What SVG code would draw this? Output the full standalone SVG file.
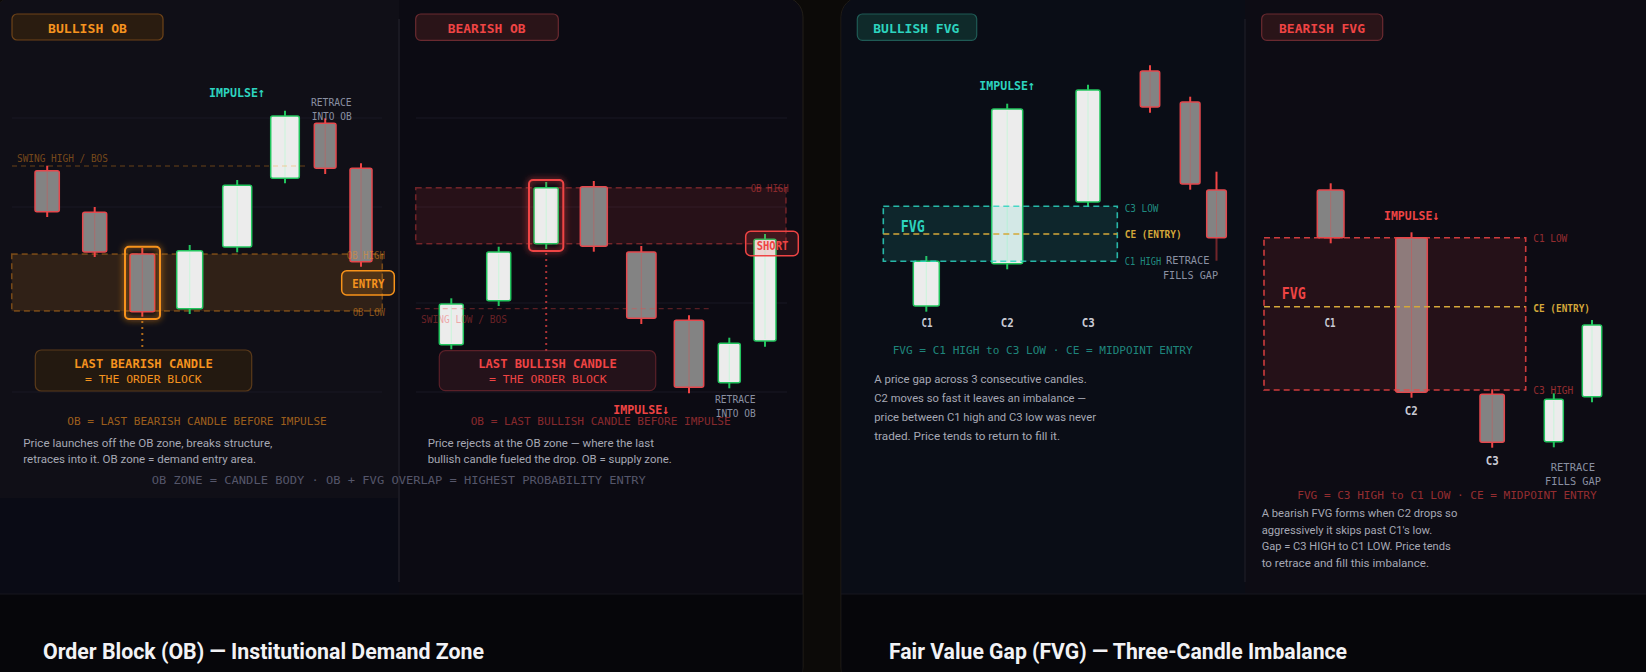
<svg xmlns="http://www.w3.org/2000/svg" width="1646" height="672" viewBox="0 0 1646 672">
<defs>
<style>
.mono{font-family:"DejaVu Sans Mono","Liberation Mono",monospace}
.sans{font-family:Roboto,"Liberation Sans",sans-serif}
.b{font-weight:700}
.bw{stroke:#ef4444;stroke-width:2}
.bb{fill:#838383;stroke:#e5484d;stroke-width:1.5}
.bc{stroke:#ef4444;stroke-width:1;opacity:.35}
.gw{stroke:#22c55e;stroke-width:2}
.gb{fill:#ececec;stroke:#22c55e;stroke-width:1.5}
.gc{stroke:#c8f7da;stroke-width:1.2;opacity:.8}
.grid{stroke:#191824;stroke-width:1}
.desc{fill:#a6a8b4;font-size:11.5px}
.gray{fill:#8a90a2;font-size:10.5px}
.or{fill:#f5931f}
.rd{fill:#ef4444}
.tl{fill:#2dd4bf}
.gd{fill:#d4a83a}
.cl{fill:#c9cad4;font-size:13px}
</style>
<filter id="glow" x="-50%" y="-50%" width="200%" height="200%">
<feGaussianBlur in="SourceGraphic" stdDeviation="3" result="bl"/>
<feMerge><feMergeNode in="bl"/><feMergeNode in="SourceGraphic"/></feMerge>
</filter>
</defs>

<!-- page background -->
<rect x="0" y="0" width="1646" height="672" fill="#0c0a08"/>

<!-- LEFT CARD -->
<g id="card-ob">
<rect x="-6" y="-3" width="809" height="690" rx="20" fill="#0c0b13" stroke="#221e18" stroke-width="1"/>
<path d="M-6,17 A20,20 0 0 1 14,-3 L399,-3 L399,498 L-6,498 Z" fill="#100f17"/>
<rect x="-6" y="498" width="405" height="96" fill="#0a0b15"/>
<rect x="-5.5" y="594" width="808" height="90" fill="#06060a"/>
<line x1="-6" y1="594" x2="803" y2="594" stroke="#17161e" stroke-width="1"/>
<line x1="399" y1="19" x2="399" y2="582" stroke="#1a1922" stroke-width="2"/>
</g>

<!-- RIGHT CARD -->
<g id="card-fvg">
<rect x="841" y="-3" width="820" height="690" rx="20" fill="#0d0c14" stroke="#221e18" stroke-width="1"/>
<path d="M841.5,17 A20,20 0 0 1 861,-3 L1245,-3 L1245,594 L841.5,594 Z" fill="#0a0d16"/>
<rect x="841.5" y="594" width="810" height="90" fill="#06060a"/>
<line x1="841" y1="594" x2="1646" y2="594" stroke="#17161e" stroke-width="1"/>
<line x1="1245" y1="19" x2="1245" y2="582" stroke="#16161f" stroke-width="2"/>
</g>

<!-- grid lines -->
<g id="grid">
<line x1="12" y1="118" x2="382" y2="118" class="grid"/>
<line x1="12" y1="207" x2="382" y2="207" class="grid"/>
<line x1="12" y1="392" x2="382" y2="392" class="grid"/>
<line x1="416" y1="118" x2="787" y2="118" class="grid"/>
<line x1="416" y1="207" x2="787" y2="207" class="grid"/>
<line x1="416" y1="303" x2="787" y2="303" class="grid"/>
<line x1="416" y1="392" x2="787" y2="392" class="grid"/>
</g>

<!-- ===== BULLISH OB ===== -->
<g id="bull-ob-label">
<rect x="12" y="14" width="151" height="26" rx="5" fill="#2a1c10" stroke="#6e4318" stroke-width="1.2"/>
<text x="48" y="33" class="mono b or" font-size="13" textLength="79" lengthAdjust="spacingAndGlyphs">BULLISH OB</text>
</g>
<g id="bull-ob-zone">
<rect x="11.7" y="254" width="370.6" height="57" fill="#f7931a" fill-opacity=".14" stroke="#f7931a" stroke-opacity=".42" stroke-width="1.5" stroke-dasharray="6 4"/>
</g>

<g id="bo-c1"><line x1="47.2" y1="165.7" x2="47.2" y2="217" class="bw"/><rect x="35" y="170.7" width="24.3" height="41" rx="2" class="bb"/><line x1="47.2" y1="172" x2="47.2" y2="210" class="bc"/></g>
<g id="bo-c2"><line x1="94.7" y1="207" x2="94.7" y2="257" class="bw"/><rect x="82.7" y="212.3" width="24" height="39.7" rx="2" class="bb"/><line x1="94.7" y1="214" x2="94.7" y2="250" class="bc"/></g>
<g id="bo-c3"><line x1="142.3" y1="248" x2="142.3" y2="316.7" class="bw"/><rect x="130" y="254" width="24.7" height="57.7" rx="2" class="bb"/><line x1="142.3" y1="256" x2="142.3" y2="310" class="bc"/>
<rect x="125" y="246.7" width="35" height="72.3" rx="4" fill="none" stroke="#f7931a" stroke-width="2" filter="url(#glow)"/></g>
<g id="bo-c4"><line x1="189.7" y1="245" x2="189.7" y2="314" class="gw"/><rect x="176.7" y="250.7" width="26" height="58" rx="2" class="gb"/><line x1="189.7" y1="252" x2="189.7" y2="307" class="gc"/></g>
<g id="bo-c5"><line x1="237.2" y1="180" x2="237.2" y2="252.3" class="gw"/><rect x="222.7" y="185.3" width="29" height="61.7" rx="2" class="gb"/><line x1="237.2" y1="187" x2="237.2" y2="245" class="gc"/></g>
<g id="bo-c6"><line x1="285" y1="110.7" x2="285" y2="183.3" class="gw"/><rect x="270.7" y="116" width="28.6" height="62.3" rx="2" class="gb"/><line x1="285" y1="118" x2="285" y2="177" class="gc"/></g>
<g id="bo-c7"><line x1="325.2" y1="118.3" x2="325.2" y2="174" class="bw"/><rect x="314.3" y="123.3" width="21.7" height="45" rx="2" class="bb"/><line x1="325.2" y1="125" x2="325.2" y2="167" class="bc"/></g>
<g id="bo-c8"><line x1="361" y1="163.3" x2="361" y2="266.7" class="bw"/><rect x="350" y="168.3" width="22" height="93.4" rx="2" class="bb"/><line x1="361" y1="170" x2="361" y2="260" class="bc"/></g>

<g id="bull-ob-swing">
<line x1="12" y1="166" x2="307" y2="166" stroke="#f7931a" stroke-opacity=".38" stroke-width="1.2" stroke-dasharray="5 4"/>
<text x="17" y="162" class="mono or" font-size="10.5" fill-opacity=".45" textLength="91" lengthAdjust="spacingAndGlyphs">SWING HIGH / BOS</text>
</g>
<g id="bull-ob-texts">
<text x="209" y="97" class="mono b tl" font-size="13" textLength="56" lengthAdjust="spacingAndGlyphs">IMPULSE↑</text>
<text x="311" y="106" class="mono gray" textLength="40.7" lengthAdjust="spacingAndGlyphs">RETRACE</text>
<text x="311.7" y="120" class="mono gray" textLength="40" lengthAdjust="spacingAndGlyphs">INTO OB</text>
<text x="346.7" y="258.7" class="mono or" font-size="10.5" fill-opacity=".5" textLength="38.3" lengthAdjust="spacingAndGlyphs">OB HIGH</text>
<text x="352.7" y="316" class="mono or" font-size="10.5" fill-opacity=".5" textLength="32.3" lengthAdjust="spacingAndGlyphs">OB LOW</text>
</g>
<g id="bull-ob-entry">
<rect x="341.7" y="270.7" width="52.6" height="24.3" rx="5" fill="#f7931a" fill-opacity=".16" stroke="#f7931a" stroke-width="1.5"/>
<text x="352.3" y="288" class="mono b or" font-size="12" textLength="32" lengthAdjust="spacingAndGlyphs">ENTRY</text>
</g>
<g id="bull-ob-callout">
<rect x="35.3" y="350" width="216.4" height="41" rx="6" fill="#231910" stroke="#5a3a1a" stroke-width="1.2"/>
<text x="74" y="368.3" class="mono b or" font-size="12.5" textLength="138.7" lengthAdjust="spacingAndGlyphs">LAST BEARISH CANDLE</text>
<text x="85" y="383.3" class="mono or" font-size="11" textLength="116.7" lengthAdjust="spacingAndGlyphs">= THE ORDER BLOCK</text>
</g>
<g id="bull-ob-notes">
<text x="67.3" y="425" class="mono or" font-size="10.5" fill-opacity=".62" textLength="259.4" lengthAdjust="spacingAndGlyphs">OB = LAST BEARISH CANDLE BEFORE IMPULSE</text>
<text x="23.3" y="447" class="sans desc" textLength="249" lengthAdjust="spacingAndGlyphs">Price launches off the OB zone, breaks structure,</text>
<text x="23.3" y="463" class="sans desc" textLength="232.7" lengthAdjust="spacingAndGlyphs">retraces into it. OB zone = demand entry area.</text>
<text x="151.7" y="484.3" class="mono" font-size="10.5" fill="#55566a" textLength="494" lengthAdjust="spacingAndGlyphs">OB ZONE = CANDLE BODY · OB + FVG OVERLAP = HIGHEST PROBABILITY ENTRY</text>
</g>

<!-- ===== BEARISH OB ===== -->
<g id="bear-ob-label">
<rect x="415.7" y="14" width="142.6" height="26.3" rx="5" fill="#2a1418" stroke="#6a2a30" stroke-width="1.2"/>
<text x="447.7" y="33" class="mono b rd" font-size="13" textLength="78" lengthAdjust="spacingAndGlyphs">BEARISH OB</text>
</g>
<g id="bear-ob-zone">
<rect x="415.7" y="187.7" width="370.3" height="56" fill="#ef4444" fill-opacity=".12" stroke="#ef4444" stroke-opacity=".42" stroke-width="1.5" stroke-dasharray="6 4"/>
<text x="750.7" y="192" class="mono rd" font-size="10.5" fill-opacity=".5" textLength="38" lengthAdjust="spacingAndGlyphs">OB HIGH</text>
</g>

<g id="be-c1"><line x1="451.3" y1="298.3" x2="451.3" y2="349.3" class="gw"/><rect x="439.3" y="304" width="24" height="40.7" rx="2" class="gb"/><line x1="451.3" y1="306" x2="451.3" y2="343" class="gc"/></g>
<g id="be-c2"><line x1="498.7" y1="246.7" x2="498.7" y2="306" class="gw"/><rect x="486.7" y="252" width="24" height="48.7" rx="2" class="gb"/><line x1="498.7" y1="254" x2="498.7" y2="299" class="gc"/></g>
<g id="be-c3"><line x1="546.2" y1="182" x2="546.2" y2="249" class="gw"/><rect x="534" y="187.7" width="24.3" height="56" rx="2" class="gb"/><line x1="546.2" y1="190" x2="546.2" y2="242" class="gc"/>
<rect x="529" y="180" width="34.3" height="71" rx="4" fill="none" stroke="#ef4444" stroke-width="2" filter="url(#glow)"/></g>
<g id="be-c4"><line x1="593.8" y1="181" x2="593.8" y2="251.7" class="bw"/><rect x="580.3" y="186.7" width="27" height="59.6" rx="2" class="bb"/><line x1="593.8" y1="188" x2="593.8" y2="245" class="bc"/></g>
<g id="be-c5"><line x1="641.3" y1="246" x2="641.3" y2="324" class="bw"/><rect x="626.7" y="252" width="29.3" height="66.3" rx="2" class="bb"/><line x1="641.3" y1="254" x2="641.3" y2="317" class="bc"/></g>
<g id="be-c6"><line x1="689" y1="315.3" x2="689" y2="393.3" class="bw"/><rect x="674.3" y="320.3" width="29.4" height="67" rx="2" class="bb"/><line x1="689" y1="322" x2="689" y2="386" class="bc"/></g>
<g id="be-c7"><line x1="729.3" y1="337.7" x2="729.3" y2="388.3" class="gw"/><rect x="718.3" y="343.3" width="22" height="39.4" rx="2" class="gb"/><line x1="729.3" y1="345" x2="729.3" y2="381" class="gc"/></g>
<g id="be-c8"><line x1="765" y1="234" x2="765" y2="346.7" class="gw"/><rect x="754" y="239.3" width="22" height="101.7" rx="2" class="gb"/><line x1="765" y1="241" x2="765" y2="339" class="gc"/></g>

<g id="bear-ob-swing">
<line x1="415.7" y1="308.7" x2="710" y2="308.7" stroke="#ef4444" stroke-opacity=".35" stroke-width="1.2" stroke-dasharray="5 4"/>
<text x="421" y="322.7" class="mono rd" font-size="10.5" fill-opacity=".42" textLength="86" lengthAdjust="spacingAndGlyphs">SWING LOW / BOS</text>
</g>
<g id="bear-ob-short">
<rect x="745.7" y="231.3" width="52.6" height="24.4" rx="5" fill="#ef4444" fill-opacity=".14" stroke="#ef4444" stroke-width="1.5"/>
<text x="756.7" y="250" class="mono b rd" font-size="12" textLength="31.6" lengthAdjust="spacingAndGlyphs">SHORT</text>
</g>
<g id="bear-ob-callout">
<rect x="439.3" y="350.7" width="216.4" height="40" rx="6" fill="#24121a" stroke="#5a2028" stroke-width="1.2"/>
<text x="478.3" y="368.3" class="mono b rd" font-size="12.5" textLength="138.4" lengthAdjust="spacingAndGlyphs">LAST BULLISH CANDLE</text>
<text x="489" y="383.3" class="mono rd" font-size="11" textLength="117.7" lengthAdjust="spacingAndGlyphs">= THE ORDER BLOCK</text>
</g>
<g id="bear-ob-notes">
<text x="613.3" y="414.3" class="mono b rd" font-size="13" textLength="56" lengthAdjust="spacingAndGlyphs">IMPULSE↓</text>
<text x="715" y="403.3" class="mono gray" textLength="40.7" lengthAdjust="spacingAndGlyphs">RETRACE</text>
<text x="715.7" y="417.3" class="mono gray" textLength="40" lengthAdjust="spacingAndGlyphs">INTO OB</text>
<text x="470.7" y="425" class="mono rd" font-size="10.5" fill-opacity=".55" textLength="260" lengthAdjust="spacingAndGlyphs">OB = LAST BULLISH CANDLE BEFORE IMPULSE</text>
<text x="427.7" y="447" class="sans desc" textLength="226.3" lengthAdjust="spacingAndGlyphs">Price rejects at the OB zone — where the last</text>
<text x="427.7" y="463" class="sans desc" textLength="244" lengthAdjust="spacingAndGlyphs">bullish candle fueled the drop. OB = supply zone.</text>
</g>

<!-- ===== BULLISH FVG ===== -->
<g id="bull-fvg-label">
<rect x="857.3" y="14" width="119.4" height="26.3" rx="5" fill="#0f2a2a" stroke="#1f5a55" stroke-width="1.2"/>
<text x="873.3" y="33" class="mono b tl" font-size="13" textLength="86" lengthAdjust="spacingAndGlyphs">BULLISH FVG</text>
</g>
<g id="bf-c1"><line x1="926.3" y1="256" x2="926.3" y2="311.7" class="gw"/><rect x="913.3" y="261.3" width="26" height="44.7" rx="2" class="gb"/><line x1="926.3" y1="263" x2="926.3" y2="305" class="gc"/></g>
<g id="bf-c2"><line x1="1007.2" y1="103.7" x2="1007.2" y2="269.3" class="gw"/><rect x="991.7" y="109" width="31" height="154.7" rx="2" class="gb"/><line x1="1007.2" y1="111" x2="1007.2" y2="262" class="gc"/></g>
<g id="bf-c3"><line x1="1088" y1="84.7" x2="1088" y2="206.7" class="gw"/><rect x="1076" y="90" width="24" height="112" rx="2" class="gb"/><line x1="1088" y1="92" x2="1088" y2="200" class="gc"/></g>
<g id="bf-r1"><line x1="1150" y1="65.3" x2="1150" y2="112.7" class="bw"/><rect x="1140.3" y="71" width="19.4" height="36" rx="2" class="bb"/><line x1="1150" y1="73" x2="1150" y2="106" class="bc"/></g>
<g id="bf-r2"><line x1="1190.2" y1="96.7" x2="1190.2" y2="189.7" class="bw"/><rect x="1180.3" y="102" width="19.7" height="82" rx="2" class="bb"/><line x1="1190.2" y1="104" x2="1190.2" y2="183" class="bc"/></g>
<g id="bf-r3"><line x1="1216.5" y1="171.7" x2="1216.5" y2="237.7" class="bw"/><line x1="1216.5" y1="237.7" x2="1216.5" y2="260.7" class="bw" opacity=".45"/><rect x="1206.7" y="190" width="19.6" height="47.7" rx="2" class="bb"/><line x1="1216.5" y1="192" x2="1216.5" y2="236" class="bc"/></g>
<g id="bull-fvg-zone">
<rect x="883.3" y="206.3" width="234" height="55" fill="#2dd4bf" fill-opacity=".13" stroke="#2dd4bf" stroke-opacity=".85" stroke-width="1.6" stroke-dasharray="6 4"/>
<line x1="883.3" y1="234" x2="1117.3" y2="234" stroke="#d4a83a" stroke-width="1.5" stroke-dasharray="6 4"/>
<text x="900.7" y="232.3" class="mono b tl" font-size="16" textLength="24" lengthAdjust="spacingAndGlyphs">FVG</text>
<text x="1124.7" y="212" class="mono tl" font-size="10.5" fill-opacity=".65" textLength="33.7" lengthAdjust="spacingAndGlyphs">C3 LOW</text>
<text x="1124.7" y="238.3" class="mono b gd" font-size="11" textLength="57" lengthAdjust="spacingAndGlyphs">CE (ENTRY)</text>
<text x="1124.7" y="265" class="mono tl" font-size="10.5" fill-opacity=".65" textLength="36.5" lengthAdjust="spacingAndGlyphs">C1 HIGH</text>
</g>
<g id="bull-fvg-texts">
<text x="979.3" y="90" class="mono b tl" font-size="13" textLength="55.7" lengthAdjust="spacingAndGlyphs">IMPULSE↑</text>
<text x="1166" y="264.3" class="mono gray" textLength="43.5" lengthAdjust="spacingAndGlyphs">RETRACE</text>
<text x="1163" y="279" class="mono gray" textLength="55" lengthAdjust="spacingAndGlyphs">FILLS GAP</text>
<text x="927" y="326.7" class="mono b cl" text-anchor="middle" textLength="11" lengthAdjust="spacingAndGlyphs">C1</text>
<text x="1007.3" y="326.7" class="mono b cl" text-anchor="middle" textLength="13" lengthAdjust="spacingAndGlyphs">C2</text>
<text x="1088.3" y="326.7" class="mono b cl" text-anchor="middle" textLength="13" lengthAdjust="spacingAndGlyphs">C3</text>
<text x="892.7" y="354" class="mono tl" font-size="10.5" fill-opacity=".62" textLength="300" lengthAdjust="spacingAndGlyphs">FVG = C1 HIGH to C3 LOW · CE = MIDPOINT ENTRY</text>
<text x="874.3" y="383.3" class="sans desc" textLength="212.4" lengthAdjust="spacingAndGlyphs">A price gap across 3 consecutive candles.</text>
<text x="874.3" y="402.3" class="sans desc" textLength="211.7" lengthAdjust="spacingAndGlyphs">C2 moves so fast it leaves an imbalance —</text>
<text x="874.3" y="421.3" class="sans desc" textLength="221.7" lengthAdjust="spacingAndGlyphs">price between C1 high and C3 low was never</text>
<text x="874.3" y="440" class="sans desc" textLength="185.7" lengthAdjust="spacingAndGlyphs">traded. Price tends to return to fill it.</text>
</g>

<!-- ===== BEARISH FVG ===== -->
<g id="bear-fvg-label">
<rect x="1261.7" y="14" width="121" height="26.3" rx="5" fill="#2a1418" stroke="#6a2a30" stroke-width="1.2"/>
<text x="1279" y="33" class="mono b rd" font-size="13" textLength="86" lengthAdjust="spacingAndGlyphs">BEARISH FVG</text>
</g>
<g id="rf-c1"><line x1="1330.7" y1="183.3" x2="1330.7" y2="243.3" class="bw"/><rect x="1317.3" y="190" width="26.7" height="47.7" rx="2" class="bb"/><line x1="1330.7" y1="192" x2="1330.7" y2="236" class="bc"/></g>
<g id="rf-c2"><line x1="1411.5" y1="232.3" x2="1411.5" y2="397.7" class="bw"/><rect x="1395.7" y="237.7" width="31.6" height="154.6" rx="2" class="bb"/><line x1="1411.5" y1="240" x2="1411.5" y2="391" class="bc"/></g>
<g id="rf-c3"><line x1="1492.2" y1="389.3" x2="1492.2" y2="447.7" class="bw"/><rect x="1480" y="394.3" width="24.3" height="48" rx="2" class="bb"/><line x1="1492.2" y1="396" x2="1492.2" y2="441" class="bc"/></g>
<g id="rf-r1"><line x1="1553.8" y1="393.3" x2="1553.8" y2="447.3" class="gw"/><rect x="1544.3" y="399.3" width="19" height="42.4" rx="2" class="gb"/><line x1="1553.8" y1="401" x2="1553.8" y2="440" class="gc"/></g>
<g id="rf-r2"><line x1="1592" y1="320" x2="1592" y2="402.3" class="gw"/><rect x="1582.3" y="325" width="19.4" height="71.7" rx="2" class="gb"/><line x1="1592" y1="327" x2="1592" y2="395" class="gc"/></g>
<g id="bear-fvg-zone">
<rect x="1264" y="237.7" width="261.7" height="152.3" fill="#ef4444" fill-opacity=".11" stroke="#ef4444" stroke-opacity=".85" stroke-width="1.6" stroke-dasharray="6 4"/>
<line x1="1264" y1="306.7" x2="1525.7" y2="306.7" stroke="#d4a83a" stroke-width="1.5" stroke-dasharray="6 4"/>
<text x="1281.7" y="299" class="mono b rd" font-size="16" textLength="24" lengthAdjust="spacingAndGlyphs">FVG</text>
<text x="1533.3" y="242" class="mono rd" font-size="10.5" fill-opacity=".6" textLength="34" lengthAdjust="spacingAndGlyphs">C1 LOW</text>
<text x="1533.3" y="311.7" class="mono b gd" font-size="11" textLength="56.7" lengthAdjust="spacingAndGlyphs">CE (ENTRY)</text>
<text x="1533.3" y="394" class="mono rd" font-size="10.5" fill-opacity=".6" textLength="40" lengthAdjust="spacingAndGlyphs">C3 HIGH</text>
</g>
<g id="bear-fvg-texts">
<text x="1384" y="220" class="mono b rd" font-size="13" textLength="55.3" lengthAdjust="spacingAndGlyphs">IMPULSE↓</text>
<text x="1330" y="326.7" class="mono b cl" text-anchor="middle" textLength="11" lengthAdjust="spacingAndGlyphs">C1</text>
<text x="1411.3" y="415" class="mono b cl" text-anchor="middle" textLength="13" lengthAdjust="spacingAndGlyphs">C2</text>
<text x="1492.3" y="465" class="mono b cl" text-anchor="middle" textLength="13" lengthAdjust="spacingAndGlyphs">C3</text>
<text x="1550.7" y="470.7" class="mono gray" textLength="44.3" lengthAdjust="spacingAndGlyphs">RETRACE</text>
<text x="1545" y="485" class="mono gray" textLength="56" lengthAdjust="spacingAndGlyphs">FILLS GAP</text>
<text x="1297.3" y="499" class="mono rd" font-size="10.5" fill-opacity=".6" textLength="299.4" lengthAdjust="spacingAndGlyphs">FVG = C3 HIGH to C1 LOW · CE = MIDPOINT ENTRY</text>
<text x="1261.7" y="517.3" class="sans desc" textLength="195.6" lengthAdjust="spacingAndGlyphs">A bearish FVG forms when C2 drops so</text>
<text x="1261.7" y="534" class="sans desc" textLength="170.6" lengthAdjust="spacingAndGlyphs">aggressively it skips past C1's low.</text>
<text x="1261.7" y="550" class="sans desc" textLength="189" lengthAdjust="spacingAndGlyphs">Gap = C3 HIGH to C1 LOW. Price tends</text>
<text x="1261.7" y="566.7" class="sans desc" textLength="167.3" lengthAdjust="spacingAndGlyphs">to retrace and fill this imbalance.</text>
</g>

<!-- connectors -->
<g id="connectors">
<line x1="142.3" y1="321" x2="142.3" y2="350" stroke="#f7931a" stroke-opacity=".7" stroke-width="2" stroke-dasharray="2 4"/>
<line x1="546.2" y1="253" x2="546.2" y2="350.7" stroke="#ef4444" stroke-opacity=".7" stroke-width="2" stroke-dasharray="2 4"/>
</g>

<!-- titles -->
<g id="titles">
<text x="43" y="659" class="sans b" font-size="22" fill="#f2f2f5" textLength="441" lengthAdjust="spacingAndGlyphs">Order Block (OB) — Institutional Demand Zone</text>
<text x="889" y="659" class="sans b" font-size="22" fill="#f2f2f5" textLength="458" lengthAdjust="spacingAndGlyphs">Fair Value Gap (FVG) — Three-Candle Imbalance</text>
</g>
</svg>
